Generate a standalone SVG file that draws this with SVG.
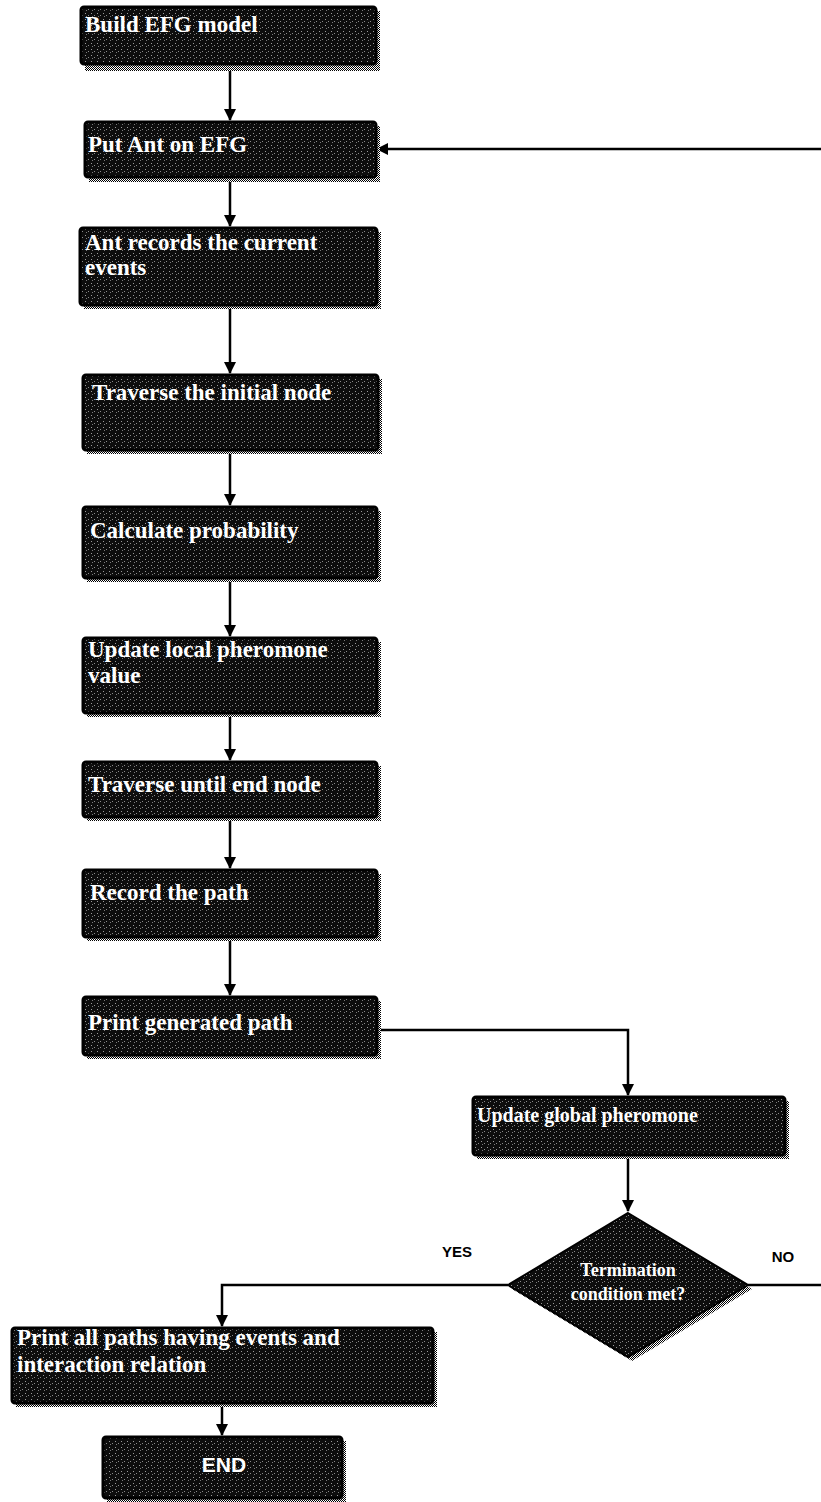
<svg xmlns="http://www.w3.org/2000/svg" width="821" height="1502" viewBox="0 0 821 1502">
<defs>
<pattern id="dots" width="2" height="2" patternUnits="userSpaceOnUse">
<rect width="2" height="2" fill="#ffffff"/>
<rect width="1" height="1" fill="#000000"/>
<rect x="1" y="1" width="1" height="1" fill="#000000"/>
</pattern>
<pattern id="speck" width="6" height="6" patternUnits="userSpaceOnUse">
<rect width="6" height="6" fill="#0d0d0d"/>
<rect x="1" y="1" width="1" height="1" fill="#9a9a9a"/>
<rect x="4" y="3" width="1" height="1" fill="#8a8a8a"/>
<rect x="2" y="4" width="1" height="1" fill="#7a7a7a"/>
</pattern>
<marker id="arr" markerWidth="12" markerHeight="12" refX="11" refY="6" orient="auto" markerUnits="userSpaceOnUse">
<path d="M0,0 L12,6 L0,12 Z" fill="#000"/>
</marker>
<style>
.box{fill:url(#speck);stroke:#000;stroke-width:3}
.sh{fill:url(#dots)}
.t{font-family:"Liberation Serif","Times New Roman",serif;font-weight:bold;font-size:23px;fill:#fff}
.lbl{font-family:"Liberation Sans",Arial,sans-serif;font-weight:bold;font-size:15px;fill:#000}
.end{font-family:"Liberation Sans",Arial,sans-serif;font-weight:bold;font-size:21px;fill:#fff}
.c{fill:none;stroke:#000;stroke-width:2.5}
</style>
</defs>
<rect width="821" height="1502" fill="#fff"/>
<g id="connectors">
<path class="c" d="M230,67 V120" marker-end="url(#arr)"/>
<path class="c" d="M821,149 H377" marker-end="url(#arr)"/>
<path class="c" d="M230,178 V226" marker-end="url(#arr)"/>
<path class="c" d="M230,305 V373" marker-end="url(#arr)"/>
<path class="c" d="M230,450 V505" marker-end="url(#arr)"/>
<path class="c" d="M230,578 V636" marker-end="url(#arr)"/>
<path class="c" d="M230,713 V760" marker-end="url(#arr)"/>
<path class="c" d="M230,817 V868" marker-end="url(#arr)"/>
<path class="c" d="M230,937 V995" marker-end="url(#arr)"/>
<path class="c" d="M378,1030 H628 V1095" marker-end="url(#arr)"/>
<path class="c" d="M628,1155 V1211" marker-end="url(#arr)"/>
<path class="c" d="M508,1285 H222 V1326" marker-end="url(#arr)"/>
<path class="c" d="M748,1285 H821"/>
<path class="c" d="M222,1403 V1435" marker-end="url(#arr)"/>
</g>
<g id="n1">
<rect class="sh" x="85" y="11" width="295" height="60"/>
<rect class="box" x="81" y="7" width="295" height="57" rx="3"/>
<text class="t" x="85" y="32">Build EFG model</text>
</g>
<g id="n2">
<rect class="sh" x="89" y="126" width="291" height="56"/>
<rect class="box" x="85" y="122" width="291" height="55" rx="3"/>
<text class="t" x="88" y="152">Put Ant on EFG</text>
</g>
<g id="n3">
<rect class="sh" x="84" y="232" width="297" height="77"/>
<rect class="box" x="80" y="228" width="297" height="77" rx="3"/>
<text class="t" x="85" y="250">Ant records the current</text>
<text class="t" x="85" y="275">events</text>
</g>
<g id="n4">
<rect class="sh" x="87" y="379" width="295" height="75"/>
<rect class="box" x="83" y="375" width="295" height="75" rx="3"/>
<text class="t" x="92" y="400">Traverse the initial node</text>
</g>
<g id="n5">
<rect class="sh" x="87" y="511" width="294" height="71"/>
<rect class="box" x="83" y="507" width="294" height="71" rx="3"/>
<text class="t" x="90" y="538">Calculate probability</text>
</g>
<g id="n6">
<rect class="sh" x="87" y="642" width="294" height="75"/>
<rect class="box" x="83" y="638" width="294" height="75" rx="3"/>
<text class="t" x="88" y="657">Update local pheromone</text>
<text class="t" x="88" y="683">value</text>
</g>
<g id="n7">
<rect class="sh" x="87" y="766" width="294" height="55"/>
<rect class="box" x="83" y="762" width="294" height="55" rx="3"/>
<text class="t" x="88" y="792">Traverse until end node</text>
</g>
<g id="n8">
<rect class="sh" x="87" y="874" width="294" height="67"/>
<rect class="box" x="83" y="870" width="294" height="67" rx="3"/>
<text class="t" x="90" y="900">Record the path</text>
</g>
<g id="n9">
<rect class="sh" x="87" y="1001" width="294" height="58"/>
<rect class="box" x="83" y="997" width="294" height="58" rx="3"/>
<text class="t" x="88" y="1030">Print generated path</text>
</g>
<g id="n10">
<rect class="sh" x="477" y="1101" width="312" height="58"/>
<rect class="box" x="473" y="1097" width="312" height="58" rx="3"/>
<text class="t" x="477" y="1122" style="font-size:20px">Update global pheromone</text>
</g>
<g id="n11">
<path class="sh" d="M632,1217 L752,1289 L632,1361 L512,1289 Z"/>
<path d="M628,1213 L748,1285 L628,1357 L508,1285 Z" fill="url(#speck)" stroke="#000" stroke-width="2"/>
<text class="t" x="628" y="1276" text-anchor="middle" style="font-size:18px">Termination</text>
<text class="t" x="628" y="1300" text-anchor="middle" style="font-size:18px">condition met?</text>
</g>
<text class="lbl" x="457" y="1257" text-anchor="middle">YES</text>
<text class="lbl" x="783" y="1262" text-anchor="middle">NO</text>
<g id="n12">
<rect class="sh" x="16" y="1332" width="421" height="75"/>
<rect class="box" x="12" y="1328" width="421" height="75" rx="3"/>
<text class="t" x="17" y="1345">Print all paths having events and</text>
<text class="t" x="17" y="1372">interaction relation</text>
</g>
<g id="n13">
<rect class="sh" x="107" y="1441" width="239" height="61"/>
<rect class="box" x="103" y="1437" width="239" height="61" rx="3"/>
<text class="end" x="224" y="1472" text-anchor="middle">END</text>
</g>
</svg>
